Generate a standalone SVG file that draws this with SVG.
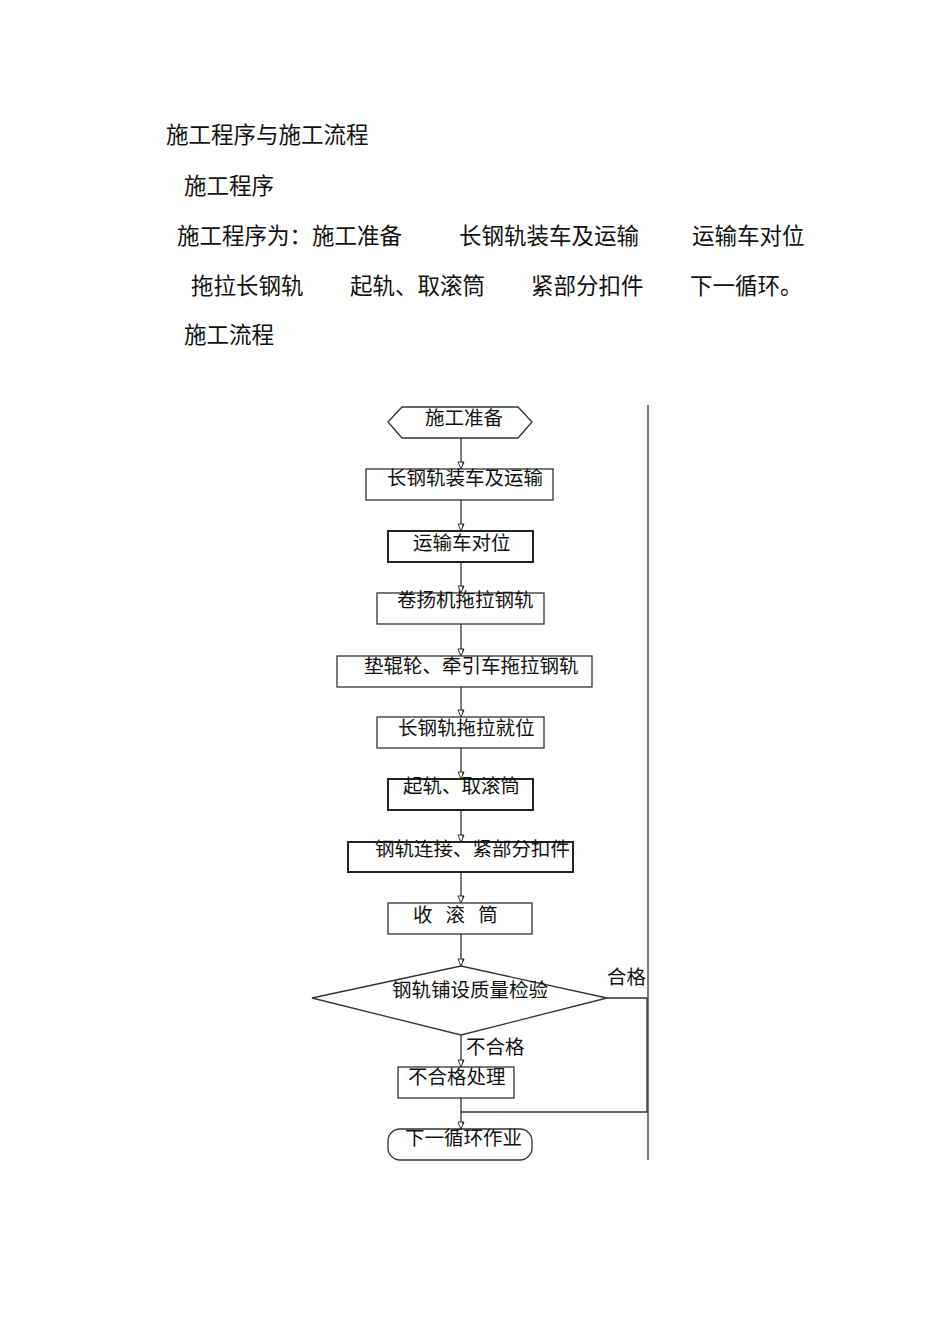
<svg xmlns="http://www.w3.org/2000/svg" width="950" height="1344" viewBox="0 0 950 1344">
<style>
.t{font-family:"Noto Sans CJK SC","Liberation Serif",serif;font-size:22.5px;fill:#111}
.n{font-family:"Noto Sans CJK SC","Liberation Serif",serif;font-size:19.5px;fill:#111}
.b{fill:#fff;stroke:#333;stroke-width:1.3}
.bb{fill:#fff;stroke:#222;stroke-width:2}
.c{fill:none;stroke:#333;stroke-width:1.3}
</style>
<defs>
<marker id="ah" markerWidth="10" markerHeight="10" refX="8" refY="4" orient="auto" markerUnits="userSpaceOnUse">
<path d="M1,1 L8,4 L1,7 Z" fill="#fff" stroke="#333" stroke-width="1"/>
<path d="M1,1 L5,2.6 L1,2.6 Z" fill="#222"/>
</marker>
</defs>
<rect width="950" height="1344" fill="#fff"/>
<g id="header">
<text class="t" x="166" y="143">施工程序与施工流程</text>
<text class="t" x="184" y="194">施工程序</text>
<text class="t" x="177" y="244">施工程序为：施工准备</text>
<text class="t" x="459" y="244">长钢轨装车及运输</text>
<text class="t" x="692" y="244">运输车对位</text>
<text class="t" x="191" y="294">拖拉长钢轨</text>
<text class="t" x="350" y="294">起轨、取滚筒</text>
<text class="t" x="531" y="294">紧部分扣件</text>
<text class="t" x="690" y="294">下一循环。</text>
<text class="t" x="184" y="343">施工流程</text>
</g>
<g id="connectors">
<line class="c" x1="648" y1="405" x2="648" y2="1160"/>
<line class="c" x1="461" y1="438" x2="461" y2="469" marker-end="url(#ah)"/>
<line class="c" x1="461" y1="500" x2="461" y2="531" marker-end="url(#ah)"/>
<line class="c" x1="461" y1="562" x2="461" y2="593" marker-end="url(#ah)"/>
<line class="c" x1="461" y1="624" x2="461" y2="656" marker-end="url(#ah)"/>
<line class="c" x1="461" y1="687" x2="461" y2="717" marker-end="url(#ah)"/>
<line class="c" x1="461" y1="748" x2="461" y2="779" marker-end="url(#ah)"/>
<line class="c" x1="461" y1="810" x2="461" y2="842" marker-end="url(#ah)"/>
<line class="c" x1="461" y1="872" x2="461" y2="903" marker-end="url(#ah)"/>
<line class="c" x1="461" y1="934" x2="461" y2="966" marker-end="url(#ah)"/>
<line class="c" x1="461" y1="1035" x2="461" y2="1067" marker-end="url(#ah)"/>
<line class="c" x1="461" y1="1098" x2="461" y2="1129" marker-end="url(#ah)"/>
<polyline class="c" points="607,998 647,998 647,1112 461,1112"/>
<text class="n" x="607" y="984">合格</text>
<text class="n" x="466" y="1054">不合格</text>
</g>
<g id="n1"><polygon class="b" points="388,422 402,407 518,407 532,422 518,438 402,438"/><text class="n" x="425" y="425">施工准备</text></g>
<g id="n2"><rect class="b" x="366" y="469" width="187" height="31"/><text class="n" x="387" y="485">长钢轨装车及运输</text></g>
<g id="n3"><rect class="bb" x="388" y="531" width="145" height="31"/><text class="n" x="413" y="550">运输车对位</text></g>
<g id="n4"><rect class="b" x="377" y="593" width="167" height="31"/><text class="n" x="397" y="607">卷扬机拖拉钢轨</text></g>
<g id="n5"><rect class="b" x="337" y="656" width="255" height="31"/><text class="n" x="364" y="673">垫辊轮、牵引车拖拉钢轨</text></g>
<g id="n6"><rect class="b" x="377" y="717" width="167" height="31"/><text class="n" x="398" y="735">长钢轨拖拉就位</text></g>
<g id="n7"><rect class="bb" x="388" y="779" width="145" height="31"/><text class="n" x="403" y="793">起轨、取滚筒</text></g>
<g id="n8"><rect class="bb" x="348" y="842" width="225" height="30"/><text class="n" x="375" y="856">钢轨连接、紧部分扣件</text></g>
<g id="n9"><rect class="b" x="388" y="903" width="144" height="31"/><text class="n" x="413" y="922" xml:space="preserve">收   滚   筒</text></g>
<g id="n10"><polygon class="b" points="312,998 461,966 607,998 461,1035"/><text class="n" x="392" y="997">钢轨铺设质量检验</text></g>
<g id="n11"><rect class="b" x="398" y="1067" width="116" height="31"/><text class="n" x="408" y="1084">不合格处理</text></g>
<g id="n12"><rect class="b" x="388" y="1129" width="144" height="31" rx="12"/><text class="n" x="405" y="1145">下一循环作业</text></g>
</svg>
